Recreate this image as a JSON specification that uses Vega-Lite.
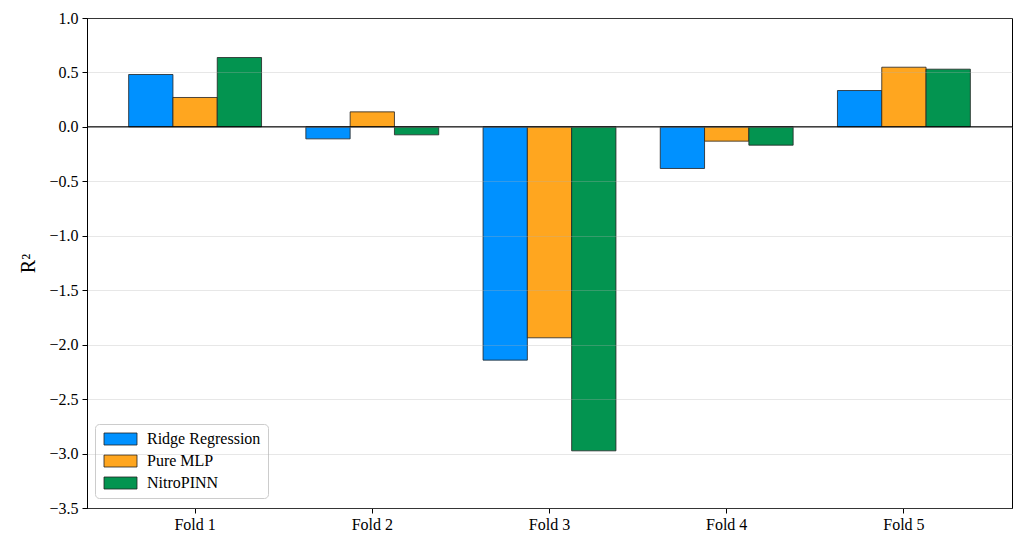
{
  "$schema": "https://vega.github.io/schema/vega-lite/v6.json",
  "autosize": {"type": "none"},
  "padding": {"left": 87, "top": 18, "right": 3, "bottom": 28},
  "width": 925,
  "height": 490,
  "background": "white",
  "config": {
    "font": "Liberation Serif",
    "view": {"stroke": "black", "strokeWidth": 1},
    "axis": {
      "labelFont": "Liberation Serif",
      "titleFont": "Liberation Serif",
      "labelColor": "black",
      "titleColor": "black",
      "domainColor": "black",
      "tickColor": "black",
      "labelFontSize": 16,
      "titleFontWeight": "normal"
    },
    "legend": {"labelFont": "Liberation Serif"}
  },
  "data": {
    "values": [
      {"fold": "Fold 1", "model": "Ridge Regression", "r2": 0.481},
      {"fold": "Fold 1", "model": "Pure MLP", "r2": 0.270},
      {"fold": "Fold 1", "model": "NitroPINN", "r2": 0.637},
      {"fold": "Fold 2", "model": "Ridge Regression", "r2": -0.110},
      {"fold": "Fold 2", "model": "Pure MLP", "r2": 0.138},
      {"fold": "Fold 2", "model": "NitroPINN", "r2": -0.073},
      {"fold": "Fold 3", "model": "Ridge Regression", "r2": -2.142},
      {"fold": "Fold 3", "model": "Pure MLP", "r2": -1.937},
      {"fold": "Fold 3", "model": "NitroPINN", "r2": -2.975},
      {"fold": "Fold 4", "model": "Ridge Regression", "r2": -0.382},
      {"fold": "Fold 4", "model": "Pure MLP", "r2": -0.131},
      {"fold": "Fold 4", "model": "NitroPINN", "r2": -0.168},
      {"fold": "Fold 5", "model": "Ridge Regression", "r2": 0.334},
      {"fold": "Fold 5", "model": "Pure MLP", "r2": 0.548},
      {"fold": "Fold 5", "model": "NitroPINN", "r2": 0.530}
    ]
  },
  "layer": [
    {
      "mark": {"type": "bar", "stroke": "#222222", "strokeWidth": 0.8, "opacity": 1},
      "encoding": {
        "x": {
          "field": "fold",
          "type": "nominal",
          "scale": {"paddingInner": 0.25, "paddingOuter": 0.235},
          "axis": {
            "title": null,
            "labelAngle": 0,
            "labelFont": "Liberation Serif",
            "labelFontSize": 16,
            "tickSize": 5,
            "labelPadding": 3,
            "grid": false
          }
        },
        "xOffset": {
          "field": "model",
          "type": "nominal",
          "sort": ["Ridge Regression", "Pure MLP", "NitroPINN"],
          "scale": {"paddingInner": 0, "paddingOuter": 0}
        },
        "y": {
          "field": "r2",
          "type": "quantitative",
          "scale": {"domain": [-3.5, 1.0], "nice": false, "zero": false},
          "axis": {
            "title": "R²",
            "titleFont": "Liberation Serif",
            "titleFontSize": 20,
            "titlePadding": 10,
            "values": [-3.5, -3.0, -2.5, -2.0, -1.5, -1.0, -0.5, 0.0, 0.5, 1.0],
            "format": ".1f",
            "labelFont": "Liberation Serif",
            "labelFontSize": 16,
            "tickSize": 5,
            "labelPadding": 4,
            "grid": true,
            "gridColor": "#b0b0b0",
            "gridOpacity": 0.3,
            "gridWidth": 1,
            "zindex": 1
          }
        },
        "color": {
          "field": "model",
          "type": "nominal",
          "sort": ["Ridge Regression", "Pure MLP", "NitroPINN"],
          "scale": {
            "domain": ["Ridge Regression", "Pure MLP", "NitroPINN"],
            "range": ["#0091FF", "#FFA61F", "#039450"]
          },
          "legend": {
            "title": null,
            "orient": "none",
            "legendX": 8,
            "legendY": 406,
            "padding": 7,
            "strokeColor": "#cccccc",
            "fillColor": "white",
            "cornerRadius": 4,
            "symbolType": "M-1,-1H4.5V1H-1Z",
            "symbolSize": 144,
            "symbolStrokeColor": "#222222",
            "symbolStrokeWidth": 0.8,
            "symbolOpacity": 1,
            "labelFont": "Liberation Serif",
            "labelFontSize": 16,
            "labelColor": "black",
            "labelOffset": 29,
            "rowPadding": 6
          }
        }
      }
    },
    {
      "data": {"values": [{"level": 0}]},
      "mark": {"type": "rule", "color": "black", "strokeWidth": 1.2},
      "encoding": {
        "y": {"field": "level", "type": "quantitative"}
      }
    }
  ]
}
